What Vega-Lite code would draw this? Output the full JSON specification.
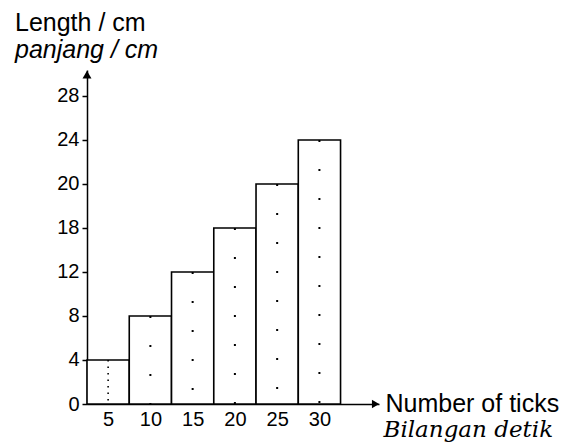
{
  "$schema": "https://vega.github.io/schema/vega-lite/v6.json",
  "autosize": "none",
  "padding": {"left": 87, "top": 70, "right": 192, "bottom": 41},
  "width": 292,
  "height": 334,
  "background": "white",
  "config": {"view": {"stroke": null}, "font": "Liberation Sans"},
  "title": {
    "text": "Length / cm",
    "subtitle": "panjang / cm",
    "anchor": "start",
    "frame": "group",
    "dx": -72,
    "offset": 7,
    "font": "Liberation Sans",
    "fontSize": 25,
    "fontWeight": "normal",
    "color": "black",
    "subtitleFont": "Liberation Sans",
    "subtitleFontSize": 25,
    "subtitleFontStyle": "italic",
    "subtitleColor": "black",
    "subtitlePadding": 2
  },
  "datasets": {
    "bars": [
      {"ticks": 5, "start": 2.5, "end": 7.5, "length": 4},
      {"ticks": 10, "start": 7.5, "end": 12.5, "length": 8},
      {"ticks": 15, "start": 12.5, "end": 17.5, "length": 12},
      {"ticks": 20, "start": 17.5, "end": 22.5, "length": 16},
      {"ticks": 25, "start": 22.5, "end": 27.5, "length": 20},
      {"ticks": 30, "start": 27.5, "end": 32.5, "length": 24}
    ],
    "yArrow": [{"x": 2.5, "y": 29.95}],
    "xArrow": [{"x": 36.64, "y": 0}]
  },
  "resolve": {"axis": {"x": "independent", "y": "independent"}},
  "layer": [
    {
      "data": {"name": "bars"},
      "mark": {"type": "rect", "fill": "white", "stroke": "black", "strokeWidth": 1.6},
      "encoding": {
        "x": {
          "field": "start", "type": "quantitative",
          "scale": {"domain": [2.5, 37.05], "nice": false, "zero": false},
          "axis": {
            "orient": "bottom",
            "values": [5, 10, 15, 20, 25, 30],
            "format": "d",
            "ticks": false,
            "tickSize": 0,
            "labelPadding": 5,
            "labelFont": "Liberation Sans",
            "labelFontSize": 20,
            "labelColor": "black",
            "labelFlush": false,
            "domainColor": "black",
            "domainWidth": 1.5,
            "grid": false,
            "title": "Number of ticks",
            "titleFont": "Liberation Sans",
            "titleFontSize": 25,
            "titleFontWeight": "normal",
            "titleColor": "black",
            "titleX": 298,
            "titleY": 7,
            "titleAlign": "left",
            "titleBaseline": "alphabetic"
          }
        },
        "x2": {"field": "end"},
        "y": {
          "field": "length", "type": "quantitative",
          "scale": {"domain": [0, 30.36], "nice": false, "zero": true},
          "axis": {
            "values": [0, 4, 8, 12, 16, 20, 24, 28],
            "labelExpr": "datum.value == 16 ? '18' : datum.label",
            "tickSize": 5,
            "tickColor": "black",
            "tickWidth": 1.5,
            "labelPadding": 3,
            "labelFont": "Liberation Sans",
            "labelFontSize": 20,
            "labelColor": "black",
            "labelFlush": false,
            "domainColor": "black",
            "domainWidth": 1.5,
            "grid": false,
            "title": null
          }
        },
        "y2": {"datum": 0}
      }
    },
    {
      "data": {"name": "bars"},
      "transform": [{"filter": "datum.ticks == 5"}],
      "mark": {"type": "rule", "color": "black", "strokeWidth": 1.6, "strokeDash": [1.5, 5]},
      "encoding": {
        "x": {"field": "ticks", "type": "quantitative", "axis": null},
        "y": {"field": "length", "type": "quantitative", "axis": null},
        "y2": {"datum": 0}
      }
    },
    {
      "data": {"name": "bars"},
      "transform": [{"filter": "datum.ticks > 5"}],
      "mark": {"type": "rule", "color": "black", "strokeWidth": 2, "strokeDash": [2, 27]},
      "encoding": {
        "x": {"field": "ticks", "type": "quantitative", "axis": null},
        "y": {"field": "length", "type": "quantitative", "axis": null},
        "y2": {"datum": 0}
      }
    },
    {
      "data": {"name": "yArrow"},
      "mark": {"type": "point", "shape": "triangle-up", "filled": true, "color": "black", "size": 80, "opacity": 1},
      "encoding": {
        "x": {"field": "x", "type": "quantitative", "axis": null},
        "y": {"field": "y", "type": "quantitative", "axis": null}
      }
    },
    {
      "data": {"name": "xArrow"},
      "mark": {"type": "point", "shape": "triangle-right", "filled": true, "color": "black", "size": 70, "opacity": 1},
      "encoding": {
        "x": {
          "field": "x", "type": "quantitative",
          "axis": {
            "orient": "bottom",
            "labels": false,
            "ticks": false,
            "domain": false,
            "grid": false,
            "title": "Bilangan detik",
            "titleFont": "DejaVu Serif",
            "titleFontStyle": "italic",
            "titleFontSize": 23,
            "titleFontWeight": "normal",
            "titleColor": "black",
            "titleX": 296,
            "titleY": 32,
            "titleAlign": "left",
            "titleBaseline": "alphabetic"
          }
        },
        "y": {"field": "y", "type": "quantitative", "axis": null}
      }
    }
  ]
}
